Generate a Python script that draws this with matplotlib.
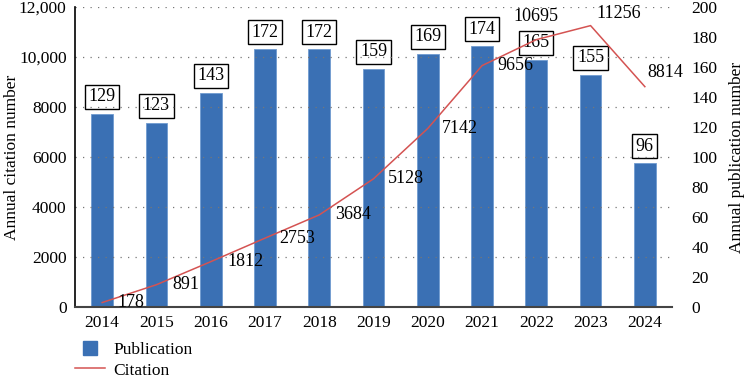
import numpy as np
import matplotlib
matplotlib.use("Agg")
import matplotlib.pyplot as plt
from matplotlib.lines import Line2D

plt.rcParams["font.family"] = ["Liberation Serif", "DejaVu Serif"]
plt.rcParams["font.size"] = 12.5

# Data
years = ["2014", "2015", "2016", "2017", "2018", "2019", "2020", "2021", "2022", "2023", "2024"]
publications = [129, 123, 143, 172, 172, 159, 169, 174, 165, 155, 96]
citations = [178, 891, 1812, 2753, 3684, 5128, 7142, 9656, 10695, 11256, 8814]

# label offsets (points) for the citation numbers
cit_offsets = [(11, 0), (11.5, 0), (12, 0), (10, 0), (11.5, 0), (10.5, 0), (10, 0),
               (11, 0), (0, 17), (4, 9), (2, 10.5)]
cit_ha = ["left"] * 8 + ["center", "left", "left"]

bar_color = "#3a70b4"
line_color = "#d45352"

fig = plt.figure(figsize=(7.45, 3.79), dpi=100)
ax = fig.add_axes([0.1007, 0.19, 0.8013, 0.7915])
ax2 = ax.twinx()

x = np.arange(len(years))

# citation line on left axis, publication bars on right axis
ax2.bar(x, publications, width=0.4, color=bar_color, edgecolor="#6f9bd0", linewidth=0.6, zorder=2)
for xi, p in zip(x, publications):
    ax2.annotate(str(p), (xi, p), xytext=(0, 6), textcoords="offset points",
                 ha="center", va="bottom", fontsize=13,
                 bbox=dict(boxstyle="square,pad=0.2", fc="white", ec="black", lw=1.0))

ax.set_zorder(ax2.get_zorder() + 1)
ax.patch.set_visible(False)
ax.plot(x, citations, color=line_color, lw=1.1, zorder=3)
for xi, c, off, ha in zip(x, citations, cit_offsets, cit_ha):
    ax.annotate(str(c), (xi, c), xytext=off, textcoords="offset points",
                ha=ha, va="center", fontsize=13)

ax.set_xlim(-0.5, 10.5)
ax.set_ylim(0, 12000)
ax2.set_ylim(0, 200)
ax.set_yticks(np.arange(0, 12001, 2000))
ax.set_yticklabels(["0", "2000", "4000", "6000", "8000", "10,000", "12,000"])
ax2.set_yticks(np.arange(0, 201, 20))
ax.set_xticks(x)
ax.set_xticklabels(years)
ax.yaxis.grid(True, linestyle=(0, (1, 5)), color="#777777", lw=0.9)
ax.tick_params(length=0, pad=6, labelsize=12.5)
ax2.tick_params(length=0, pad=14, labelsize=12.5)

for s in ["top", "right"]:
    ax.spines[s].set_visible(False)
    ax2.spines[s].set_visible(False)
ax2.spines["left"].set_visible(False)
ax2.spines["bottom"].set_visible(False)
ax.spines["left"].set_color("black")
ax.spines["left"].set_linewidth(1.2)
ax.spines["bottom"].set_color("#444444")
ax.spines["bottom"].set_linewidth(1.5)

ax.set_ylabel("Annual citation number", fontsize=12.5)
ax2.set_ylabel("Annual publication number", fontsize=12.5)
ax.yaxis.set_label_coords(-0.093, 0.5)
ax2.yaxis.set_label_coords(1.096, 0.5)

handles = [Line2D([], [], marker="s", color=bar_color, ls="none", markersize=10),
           Line2D([], [], color=line_color, lw=1.1)]
fig.legend(handles, ["Publication", "Citation"], loc="lower left",
           bbox_to_anchor=(0.08, -0.04), frameon=False, fontsize=12.5,
           handlelength=1.7, handletextpad=0.5, labelspacing=0.25)

fig.savefig("out.png", dpi=100)
